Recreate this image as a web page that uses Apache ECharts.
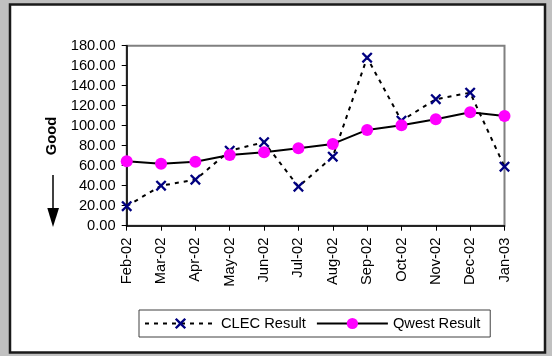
<!DOCTYPE html>
<html>
<head>
<meta charset="utf-8">
<script src="https://cdn.jsdelivr.net/npm/echarts@6/dist/echarts.min.js"></script>
<style>html,body{margin:0;padding:0;background:#c0c0c0;}#c{width:552px;height:356px;}</style>
</head>
<body>
<div id="c"></div>
<script>
const categories = ['Feb-02','Mar-02','Apr-02','May-02','Jun-02','Jul-02','Aug-02','Sep-02','Oct-02','Nov-02','Dec-02','Jan-03'];
const clecResult = [19.5, 40, 46, 75, 83.5, 39, 69, 168, 105, 126.5, 133, 59];
const qwestResult = [64.5, 62, 64, 70.8, 73.5, 77.5, 81.8, 95.8, 100.5, 106.5, 113.5, 109.8];
const yTicks = {min: 0, max: 180, interval: 20};

const FONT = '"Liberation Sans", Arial, sans-serif';
const xMark = 'path://M0,1.5L1.5,0L5,3.5L8.5,0L10,1.5L6.5,5L10,8.5L8.5,10L5,6.5L1.5,10L0,8.5L3.5,5Z';

const chart = echarts.init(document.getElementById('c'), null, {renderer: 'canvas'});
chart.setOption({
  backgroundColor: '#c0c0c0',
  animation: false,
  textStyle: {fontFamily: FONT},
  graphic: [
    {type: 'rect', z: -100, shape: {x: 10, y: 4.5, width: 535, height: 348},
     style: {fill: '#ffffff', stroke: '#1a1a1a', lineWidth: 2.5}},
    {type: 'text', z: 10, x: 52, y: 136, rotation: Math.PI / 2,
     style: {text: 'Good', font: 'bold 14.7px ' + FONT, fill: '#000', align: 'center', verticalAlign: 'middle'}},
    {type: 'line', z: 10, shape: {x1: 53, y1: 175, x2: 53, y2: 212},
     style: {stroke: '#000', lineWidth: 1.5}},
    {type: 'polygon', z: 10, shape: {points: [[47.3, 208], [59, 208], [53, 227]]},
     style: {fill: '#000'}}
  ],
  grid: {left: 126.7, right: 47.5, top: 45.7, bottom: 130.3, show: true,
         borderColor: '#808080', borderWidth: 2, backgroundColor: 'transparent'},
  legend: {
    left: 139, top: 310, padding: [6, 10, 6, 5],
    borderColor: '#404040', borderWidth: 1, backgroundColor: '#fff',
    itemWidth: 71, itemHeight: 14, itemGap: 10,
    textStyle: {fontSize: 14.7, color: '#000', fontFamily: FONT, padding: [0, 0, 0, 0]},
    data: ['CLEC Result', 'Qwest Result']
  },
  xAxis: {
    type: 'category', data: categories, boundaryGap: false,
    axisLine: {lineStyle: {color: '#000', width: 1.5}},
    axisTick: {show: true, length: 5, lineStyle: {color: '#000'}},
    axisLabel: {rotate: 90, margin: 12, fontSize: 14.7, color: '#000', fontFamily: FONT, interval: 0},
    splitLine: {show: false}
  },
  yAxis: {
    type: 'value', min: yTicks.min, max: yTicks.max, interval: yTicks.interval,
    axisLine: {show: true, lineStyle: {color: '#000', width: 1.5}},
    axisTick: {show: true, length: 5, lineStyle: {color: '#000'}},
    axisLabel: {margin: 11, fontSize: 14.7, color: '#000', fontFamily: FONT,
                formatter: v => v.toFixed(2)},
    splitLine: {show: false}
  },
  series: [
    {name: 'CLEC Result', type: 'line', data: clecResult, z: 3,
     symbol: xMark, symbolSize: 11,
     itemStyle: {color: '#000080'},
     lineStyle: {color: '#000', width: 2, type: [4, 5]}},
    {name: 'Qwest Result', type: 'line', data: qwestResult, z: 4,
     symbol: 'circle', symbolSize: 12,
     itemStyle: {color: '#ff00ff', borderWidth: 0},
     lineStyle: {color: '#000', width: 2}}
  ]
});
</script>
</body>
</html>
